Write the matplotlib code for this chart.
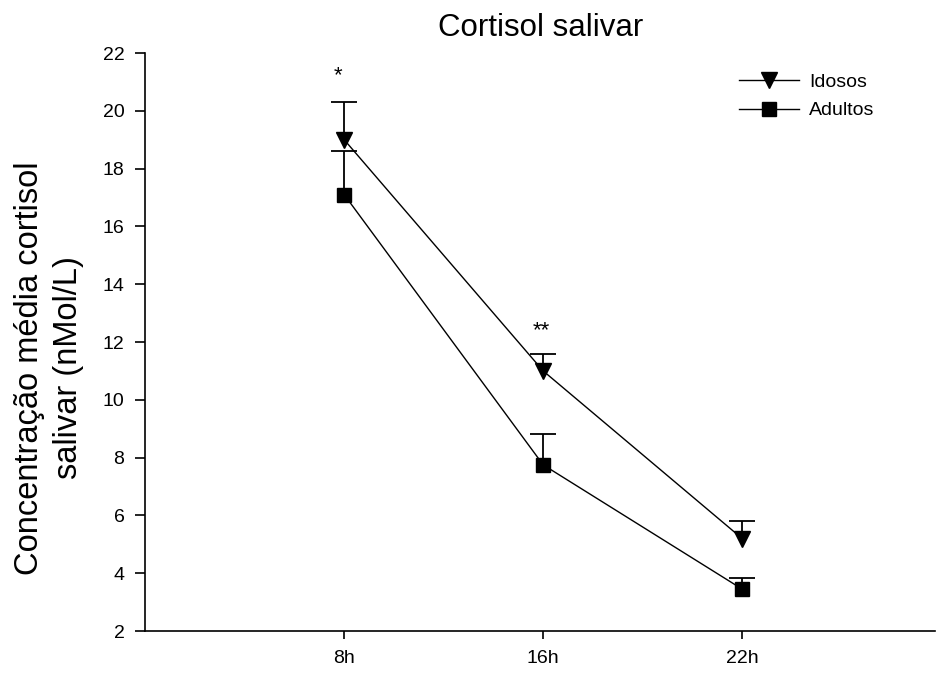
import numpy as np
import matplotlib.pyplot as plt

plt.rcParams['font.family'] = ['Liberation Sans', 'DejaVu Sans']

# horários de coleta
horarios = ["8h", "16h", "22h"]
pos = np.array([1, 2, 3])

# médias e erro padrão (nMol/L)
idosos = np.array([19.0, 11.0, 5.2])
idosos_ep = np.array([1.3, 0.6, 0.6])
adultos = np.array([17.1, 7.75, 3.45])
adultos_ep = np.array([1.5, 1.05, 0.4])

fig = plt.figure(figsize=(9.37, 6.73), dpi=100)
ax = fig.add_axes([0.155, 0.0624, 0.843, 0.8588])

for media, ep, mk, ms, nome in [(idosos, idosos_ep, "v", 11, "Idosos"),
                                (adultos, adultos_ep, "s", 9.5, "Adultos")]:
    # barra de erro só para cima
    ax.vlines(pos, media, media + ep, color="black", lw=1.3)
    ax.plot(pos, media + ep, ls="none", marker="_", ms=19, mew=1.3, color="black")
    ax.plot(pos, media, color="black", lw=1, marker=mk, ms=ms, label=nome)

# significância
ax.text(0.97, 21.2, "*", ha="center", va="center", fontsize=16)
ax.text(1.99, 12.4, "**", ha="center", va="center", fontsize=16)

ax.set_xlim(0, 3.97)
ax.set_ylim(2, 22)
ax.set_yticks(np.arange(2, 23, 2))
ax.set_xticks(pos)
ax.set_xticklabels(horarios)
ax.tick_params(axis="both", labelsize=14, width=1.2, direction="out")
ax.tick_params(axis="y", length=7, pad=8)
ax.tick_params(axis="x", length=6, pad=8)
for s in ["top", "right"]:
    ax.spines[s].set_visible(False)
for s in ["left", "bottom"]:
    ax.spines[s].set_linewidth(1.2)

ax.set_title("Cortisol salivar", fontsize=22.5, pad=12)
ax.set_ylabel("Concentração média cortisol\nsalivar (nMol/L)", fontsize=23.5, linespacing=1.3)
ax.yaxis.set_label_coords(-0.078, 0.455)

ax.legend(loc="upper right", bbox_to_anchor=(0.945, 0.995), frameon=False, fontsize=14,
          handlelength=3.1, labelspacing=0.55, handletextpad=0.5)

fig.savefig("out.png", dpi=100)
